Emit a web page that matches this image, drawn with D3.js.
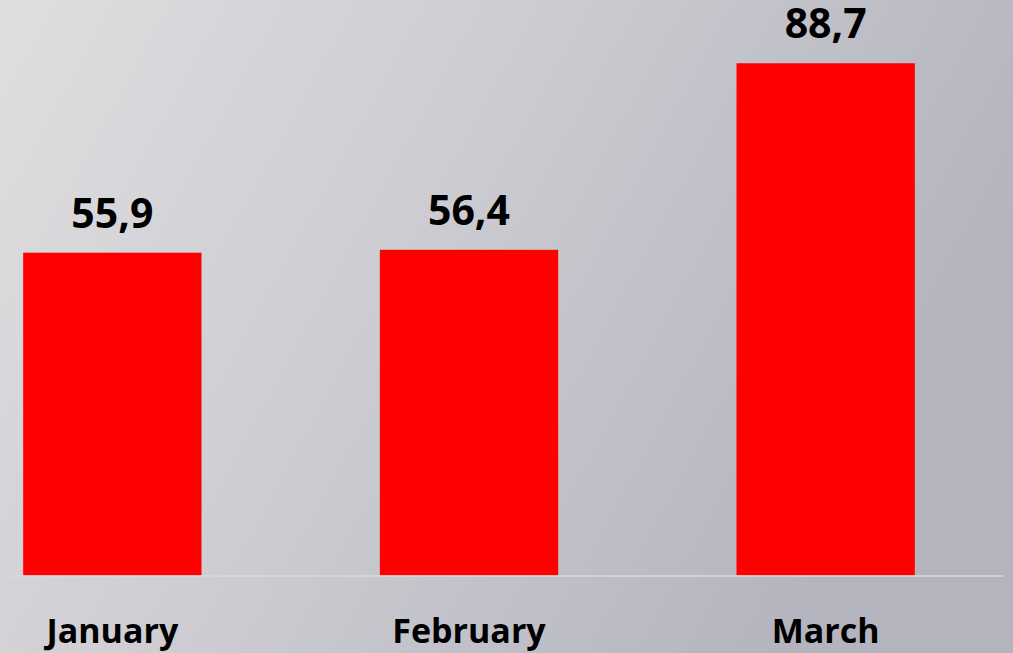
<!DOCTYPE html>
<html>
<head>
<meta charset="utf-8">
<script src="https://cdn.jsdelivr.net/npm/d3@7"></script>
<style>
  body { margin: 0; overflow: hidden; }
  text { font-family: "Open Sans", "Noto Sans", sans-serif; font-weight: bold; fill: #000; }
</style>
</head>
<body>
<svg class="chart"></svg>
<script>
var Width = 1013,
    Height = 653;

// data
var months = ["January", "February", "March"];
var values = [55.9, 56.4, 88.7];

var svg = d3.select(".chart")
    .attr("width", Width)
    .attr("height", Height);

// background gradient
var grad = svg.append("defs").append("linearGradient")
    .attr("id", "bg")
    .attr("x1", 0).attr("y1", 0)
    .attr("x2", 1).attr("y2", 0.35);
grad.append("stop").attr("offset", "0%").attr("stop-color", "#dfdfe1");
grad.append("stop").attr("offset", "50%").attr("stop-color", "#cbcbd1");
grad.append("stop").attr("offset", "100%").attr("stop-color", "#b3b4be");

svg.append("rect")
    .attr("width", Width)
    .attr("height", Height)
    .attr("fill", "url(#bg)");

// scales
var x = d3.scaleBand()
    .domain(months)
    .range([-66, 1004])
    .paddingInner(0.5)
    .paddingOuter(0.25);

var y = d3.scaleLinear()
    .domain([0, 100])
    .range([575.5, -2]);

// bars
svg.selectAll("rect.bar")
    .data(values)
    .enter().append("rect")
    .attr("class", "bar")
    .attr("x", function(d, i) { return x(months[i]); })
    .attr("y", function(d) { return y(d); })
    .attr("width", x.bandwidth())
    .attr("height", function(d) { return y(0) - y(d); })
    .attr("fill", "#ff0000");

// baseline
svg.append("line")
    .attr("x1", 0)
    .attr("x2", 1003)
    .attr("y1", y(0) + 0.5)
    .attr("y2", y(0) + 0.5)
    .attr("stroke", "#dadadc")
    .attr("stroke-width", 1.5);

// value labels
svg.selectAll("text.value")
    .data(values)
    .enter().append("text")
    .attr("class", "value")
    .attr("x", function(d, i) { return x(months[i]) + x.bandwidth() / 2; })
    .attr("y", function(d) { return y(d) - 25; })
    .attr("text-anchor", "middle")
    .style("font-size", "41px")
    .text(function(d) { return d3.format(".1f")(d).replace(".", ","); });

// category labels
svg.selectAll("text.label")
    .data(months)
    .enter().append("text")
    .attr("class", "label")
    .attr("x", function(d) { return x(d) + x.bandwidth() / 2; })
    .attr("y", 643)
    .attr("text-anchor", "middle")
    .style("font-size", "34px")
    .text(function(d) { return d; });
</script>
</body>
</html>
